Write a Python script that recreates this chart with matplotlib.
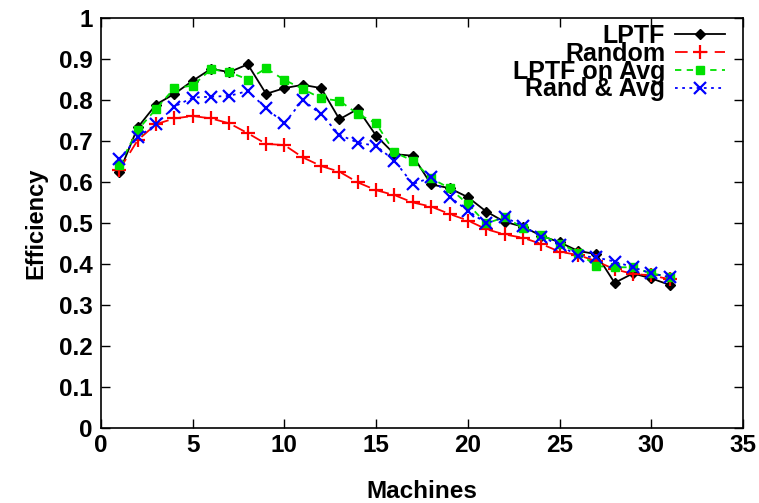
import matplotlib
matplotlib.use("Agg")
import matplotlib.pyplot as plt

machines = list(range(1, 32))

lptf = [0.624, 0.733, 0.789, 0.815, 0.847, 0.876, 0.868, 0.887, 0.815, 0.829,
        0.837, 0.829, 0.753, 0.778, 0.713, 0.668, 0.664, 0.594, 0.585, 0.563,
        0.528, 0.503, 0.491, 0.469, 0.453, 0.432, 0.424, 0.354, 0.377, 0.365, 0.349]
random_ = [0.630, 0.702, 0.741, 0.755, 0.761, 0.755, 0.743, 0.719, 0.693, 0.690,
           0.660, 0.639, 0.625, 0.599, 0.580, 0.568, 0.550, 0.540, 0.522, 0.506,
           0.485, 0.472, 0.464, 0.449, 0.430, 0.422, 0.407, 0.387, 0.376, 0.372, 0.363]
lptf_avg = [0.641, 0.727, 0.778, 0.829, 0.835, 0.875, 0.868, 0.850, 0.877, 0.849,
            0.827, 0.804, 0.798, 0.766, 0.743, 0.672, 0.652, 0.609, 0.585, 0.546,
            0.499, 0.514, 0.489, 0.471, 0.450, 0.428, 0.395, 0.392, 0.392, 0.377, 0.369]
rand_avg = [0.656, 0.709, 0.741, 0.784, 0.806, 0.808, 0.810, 0.822, 0.780, 0.743,
            0.800, 0.765, 0.715, 0.696, 0.688, 0.652, 0.595, 0.611, 0.564, 0.530,
            0.499, 0.514, 0.493, 0.467, 0.446, 0.420, 0.416, 0.406, 0.392, 0.377, 0.368]

plt.rcParams['font.family'] = ['Liberation Sans', 'DejaVu Sans']
plt.rcParams['font.weight'] = 'bold'

fig = plt.figure(figsize=(7.59, 5.03), dpi=100)
ax = fig.add_axes([101 / 759, 75 / 503, 642 / 759, 410 / 503])

ax.plot(machines, lptf, color='black', lw=1.3, marker='D', ms=5.5, label='LPTF')
ax.plot(machines, random_, color='#ff0000', lw=1.3, ls=(0, (7, 4)), marker='+',
        ms=10, mew=1.6, label='Random')
ax.plot(machines, lptf_avg, color='#00e000', lw=1.3, ls=(0, (3.5, 3)), marker='s',
        ms=6, label='LPTF on Avg')
ax.plot(machines, rand_avg, color='#0000ff', lw=1.3, ls=(0, (1.5, 2.5)), marker='x',
        ms=8, mew=1.6, label='Rand & Avg')

ax.set_xlim(0, 35)
ax.set_ylim(0, 1)
ax.set_xticks(range(0, 36, 5))
ax.set_yticks([i / 10 for i in range(11)])
ax.set_yticklabels(['0', '0.1', '0.2', '0.3', '0.4', '0.5', '0.6', '0.7', '0.8', '0.9', '1'])
ax.tick_params(direction='in', length=6.5, width=1, top=True, right=True,
               labelsize=17.5, pad=6)
ax.tick_params(axis='x', pad=4)
for s in ax.spines.values():
    s.set_linewidth(1.2)

ax.set_xlabel('Machines', fontsize=17.5, fontweight='bold', labelpad=17)
ax.set_ylabel('Efficiency', fontsize=17, fontweight='bold', labelpad=8)

leg = ax.legend(loc='upper right', markerfirst=False, frameon=False, fontsize=18,
                handlelength=2.0, handletextpad=0.4, labelspacing=-0.25,
                borderaxespad=0.0, borderpad=0.0, bbox_to_anchor=(0.972, 0.985))

fig.savefig('out.png', dpi=100)
